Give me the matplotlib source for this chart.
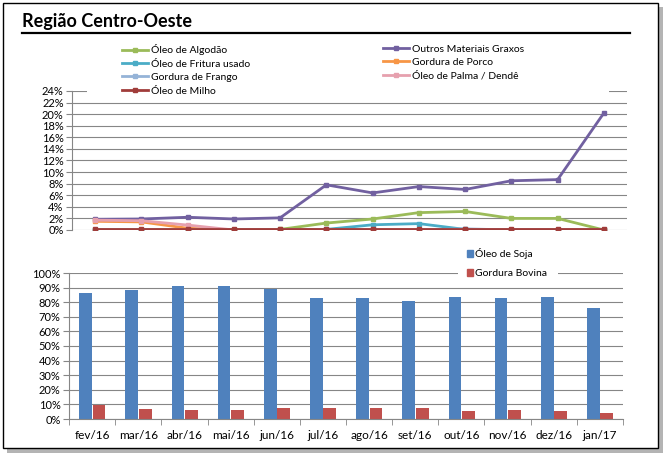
import matplotlib

matplotlib.use("Agg")
import matplotlib.pyplot as plt
import numpy as np
from matplotlib.lines import Line2D
from matplotlib.patches import Patch, Rectangle
from matplotlib.ticker import FuncFormatter, MultipleLocator

W, H = 665, 459

months = ["fev/16", "mar/16", "abr/16", "mai/16", "jun/16", "jul/16",
          "ago/16", "set/16", "out/16", "nov/16", "dez/16", "jan/17"]

# top chart, % of total
algodao = [0, 0, 0, 0, 0.1, 1.2, 1.9, 3.0, 3.2, 2.0, 2.0, 0]
outros = [1.85, 1.9, 2.2, 1.9, 2.1, 7.8, 6.4, 7.5, 7.0, 8.5, 8.7, 20.2]
fritura = [0, 0, 0, 0, 0, 0.1, 0.9, 1.1, 0.1, 0, 0, 0]
porco = [1.5, 1.4, 0.3, 0, 0, 0, 0, 0, 0, 0, 0, 0]
frango = [0, 0, 0, 0, 0, 0, 0, 0, 0.2, 0, 0, 0]
palma = [1.7, 1.6, 0.85, 0, 0, 0, 0, 0, 0, 0, 0, 0]
milho = [0.1] * 12

# bottom chart
soja = [86.3, 88.1, 90.9, 91.2, 89.0, 83.0, 83.0, 81.0, 83.6, 82.7, 83.4, 75.9]
bovina = [9.7, 7.0, 6.3, 6.4, 7.8, 7.8, 7.8, 7.2, 5.7, 6.5, 5.7, 3.8]

line_series = [
    ("Óleo de Algodão", algodao, "#9BBB59"),
    ("Outros Materiais Graxos", outros, "#7160A0"),
    ("Óleo de Fritura usado", fritura, "#4BACC6"),
    ("Gordura de Porco", porco, "#F79646"),
    ("Gordura de Frango", frango, "#95B3D7"),
    ("Óleo de Palma / Dendê", palma, "#E6A0AE"),
    ("Óleo de Milho", milho, "#A03C3A"),
]

GRID = "#868686"
FONT = "Lato"
plt.rcParams["font.family"] = [FONT, "DejaVu Sans"]


def fx(px):
    return px / W


def fy(py):
    return 1 - py / H


def add_axes(left, top, right, bottom):
    return fig.add_axes([fx(left), fy(bottom), fx(right - left), (bottom - top) / H])


def pct(v, _):
    return f"{v:.0f}%"


fig = plt.figure(figsize=(W / 100, H / 100), dpi=100)

# frame with shadow
fig.patches.append(Rectangle((fx(7), fy(453)), fx(656), 446 / H, transform=fig.transFigure,
                             facecolor="#b4b4b4", edgecolor="none", zorder=-3))
fig.patches.append(Rectangle((fx(3), fy(448)), fx(655), 445 / H, transform=fig.transFigure,
                             facecolor="white", edgecolor="black", linewidth=1, zorder=-2))

fig.text(fx(22), fy(27), "Região Centro-Oeste", fontsize=13, fontweight="bold", va="baseline")
fig.add_artist(Line2D([fx(22), fx(630)], [fy(32.5), fy(32.5)], color="black", linewidth=1.6))

x = np.arange(len(months))

# ---- top: line chart
ax1 = add_axes(72, 91, 627, 230)
for name, vals, color in line_series:
    ax1.plot(x, vals, color=color, linewidth=2, marker="s", markersize=3.5, label=name)
ax1.set_xlim(-0.5, len(months) - 0.5)
ax1.set_ylim(0, 24)
ax1.yaxis.set_major_locator(MultipleLocator(2))
ax1.yaxis.set_major_formatter(FuncFormatter(pct))
ax1.grid(axis="y", color=GRID, linewidth=0.8)
ax1.set_axisbelow(True)
ax1.set_xticks([])
for side in ["top", "right", "bottom"]:
    ax1.spines[side].set_visible(False)
ax1.spines["left"].set_color(GRID)
ax1.tick_params(axis="y", length=4, color=GRID, labelsize=8, pad=2)

# white box behind the legend, hides part of the 24% gridline
fig.patches.append(Rectangle((fx(87), fy(97)), fx(522), 57 / H, transform=fig.transFigure,
                             facecolor="white", edgecolor="none", zorder=2))

handles = {name: Line2D([], [], color=c, linewidth=2, marker="s", markersize=3.5)
           for name, _, c in line_series}
col1 = ["Óleo de Algodão", "Óleo de Fritura usado", "Gordura de Frango", "Óleo de Milho"]
col2 = ["Outros Materiais Graxos", "Gordura de Porco", "Óleo de Palma / Dendê"]
for names, left in [(col1, 117), (col2, 378)]:
    leg = fig.legend([handles[n] for n in names], names, loc="upper left",
                     bbox_to_anchor=(fx(left), fy(39)), frameon=False, fontsize=7.5,
                     handlelength=2.5, handletextpad=0.3, labelspacing=0.4,
                     borderpad=0, numpoints=1)
    leg.set_zorder(3)

# ---- bottom: bar chart
ax2 = add_axes(69, 273, 623, 419)
bw = 0.275
ax2.bar(x - 0.14, soja, width=bw, color="#4F81BD", label="Óleo de Soja")
ax2.bar(x + 0.15, bovina, width=bw, color="#C0504D", label="Gordura Bovina")
ax2.set_xlim(-0.5, len(months) - 0.5)
ax2.set_ylim(0, 100)
ax2.yaxis.set_major_locator(MultipleLocator(10))
ax2.yaxis.set_major_formatter(FuncFormatter(pct))
ax2.grid(axis="y", color=GRID, linewidth=0.8)
ax2.set_axisbelow(True)
ax2.set_xticks(x, months)
ax2.set_xticks(np.arange(-0.5, len(months)), minor=True)
ax2.tick_params(axis="x", which="major", length=0, labelsize=8.5, pad=8)
ax2.tick_params(axis="x", which="minor", length=4, color=GRID)
ax2.tick_params(axis="y", length=4, color=GRID, labelsize=8, pad=2)
for side in ["top", "right"]:
    ax2.spines[side].set_visible(False)
ax2.spines["left"].set_color(GRID)
ax2.spines["bottom"].set_color(GRID)

fig.patches.append(Rectangle((fx(458), fy(279)), fx(100), 36 / H, transform=fig.transFigure,
                             facecolor="white", edgecolor="none", zorder=2))
leg2 = fig.legend([Patch(color="#4F81BD"), Patch(color="#C0504D")],
                  ["Óleo de Soja", "Gordura Bovina"], loc="upper left",
                  bbox_to_anchor=(fx(462), fy(243)), frameon=False, fontsize=7.5,
                  handlelength=0.55, handleheight=0.55, handletextpad=0.2,
                  labelspacing=0.95, borderpad=0)
leg2.set_zorder(3)

fig.savefig("out.png", dpi=100)
